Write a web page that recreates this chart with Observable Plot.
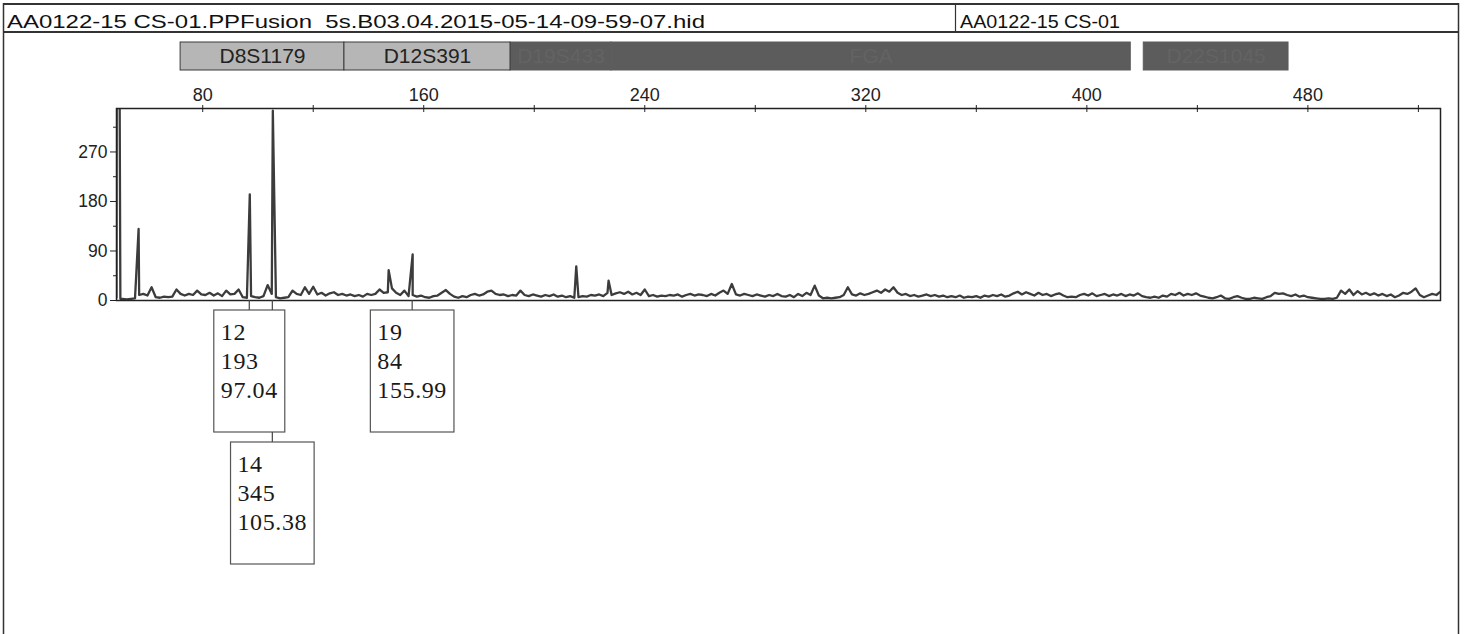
<!DOCTYPE html>
<html><head><meta charset="utf-8">
<script src="https://cdn.jsdelivr.net/npm/d3@7"></script>
<script src="https://cdn.jsdelivr.net/npm/@observablehq/plot@0.6"></script>
<style>
html,body{margin:0;padding:0;background:#fff;}
#page{position:relative;width:1471px;height:634px;overflow:hidden;background:#fff;font-family:"Liberation Sans",Arial,sans-serif;}
#page > svg{position:absolute;left:0;}
</style></head><body><div id="page"></div>
<script>
// ---------- data ----------
const fileName = "AA0122-15 CS-01.PPFusion  5s.B03.04.2015-05-14-09-59-07.hid";
const sampleName = "AA0122-15 CS-01";
const xDomain = [48.8, 528];
const yDomain = [0, 349];
const xTicks = [80,120,160,200,240,280,320,360,400,440,480,520];
const xLabels = [80,160,240,320,400,480];
const yTicksMajor = [0,90,180,270];
const yTicksMinor = [45,135,225,315];

const markerNames = ["D8S1179","D12S391","D19S433","FGA","D22S1045"];
const markerStart = [72.0,131.3,191.4,228,420.6];
const markerEnd   = [131.3,191.4,228,415.9,473.0];
const markerShade = ["light","light","dark","dark","dark"];

const traceStep = 1.5;
const baseline1Start = 51;   // 51 .. 169.5
const baseline1 = [3,2,3,4,10,12,9,24,6,5,7,6,7,20,12,9,12,10,18,11,
                   10,14,9,13,8,18,11,12,20,6,5,8,6,5,8,28,12,6,4,5,
                   6,18,12,10,24,12,25,11,14,9,13,15,10,12,9,11,8,10,7,12,
                   10,12,20,14,15,22,14,10,18,8,10,7,9,6,5,8,9,14,19,12];
const baseline2Start = 171;  // 171 .. 289.5
const baseline2 = [7,5,8,6,10,12,9,11,16,18,12,10,11,8,10,9,18,10,8,11,
                   9,7,10,8,11,7,9,6,8,5,6,8,7,10,9,11,8,14,10,13,
                   15,12,16,11,14,10,20,8,10,7,9,8,10,9,11,7,10,12,9,11,
                   10,8,12,9,14,18,12,30,11,9,12,10,8,11,9,7,10,8,12,8];
const baseline3Start = 291;  // 291 .. 409.5
const baseline3 = [7,10,6,12,8,14,10,27,9,4,5,4,5,6,10,24,11,9,13,10,
                   12,15,18,14,20,16,24,14,10,12,8,10,7,9,11,8,10,7,9,6,
                   8,6,9,5,7,6,8,5,9,7,10,8,11,7,9,13,16,11,15,12,
                   9,14,10,12,8,11,13,9,6,7,6,10,12,9,13,8,10,12,8,11];
const baseline4Start = 411;  // 411 .. 528
const baseline4 = [9,12,8,11,9,13,8,6,5,7,5,9,7,12,10,14,9,12,10,13,
                   9,7,5,4,6,9,4,3,6,8,5,3,3,5,4,3,6,8,14,12,
                   13,10,8,11,7,9,6,5,4,3,3,4,3,5,18,12,20,10,17,11,
                   14,10,13,9,12,8,11,6,9,14,12,16,22,10,6,9,12,10,16];

const peakSize = [48.8, 48.9, 49.9, 50.2, 56.8, 97.04, 105.38, 147.3, 155.99, 215.2, 226.9];
const peakRfu  = [5, 420, 420, 3, 130, 193, 345, 55, 84, 62, 36];

const calledSize   = [97.04, 105.38, 155.99];
const calledAllele = ["12", "14", "19"];
const calledHeight = [193, 345, 84];
const calledRow    = [0, 1, 0];

// ---------- build ----------
const W = 1471, H = 634;
const mL = 116, mR = 31, mT = 108, plotBottom = 300;
const page = document.getElementById("page");

const trace = [];
[[baseline1Start, baseline1],[baseline2Start, baseline2],[baseline3Start, baseline3],[baseline4Start, baseline4]]
  .forEach(([s, arr]) => arr.forEach((v, i) => trace.push({size: s + i * traceStep, rfu: v})));
peakSize.forEach((s, i) => trace.push({size: s, rfu: peakRfu[i]}));
trace.sort((a, b) => a.size - b.size);

const font = "'Liberation Sans', Arial, sans-serif";

const main = Plot.plot({
  width: W, height: H,
  marginTop: mT, marginBottom: H - plotBottom, marginLeft: mL, marginRight: mR,
  x: {domain: xDomain},
  y: {domain: yDomain},
  style: {fontFamily: font, fontSize: "18px", color: "#222", background: "transparent", overflow: "visible"},
  marks: [
    Plot.line(trace, {x: "size", y: "rfu", stroke: "#3c3c3c", strokeWidth: 2.3, strokeLinejoin: "round", clip: true}),
    Plot.frame({stroke: "#222", strokeWidth: 1.5}),
    Plot.axisX({anchor: "top", ticks: xTicks, tickSize: 4, tickPadding: 4,
                tickFormat: d => xLabels.includes(d) ? String(d) : "", label: null}),
    Plot.tickX(xTicks, {x: d => d, insetBottom: (plotBottom - mT) - 4, stroke: "#222"}),
    Plot.axisY({ticks: yTicksMajor, tickSize: 6, tickPadding: 3, label: null, fontSize: 17.5}),
    Plot.axisY({ticks: yTicksMinor, tickSize: 3, tickFormat: () => "", label: null})
  ]
});
main.style.top = "0px";
page.appendChild(main);

// allele call boxes placed with the plot's own x scale
const xs = main.scale("x");
const g = d3.select(main).append("g").attr("class", "calls").attr("text-anchor", "start");
const ctx = document.createElement("canvas").getContext("2d");
const boxFont = 24, letterSp = 0.6, boxH = 122, rowGap = 132, lineH = 29;
ctx.font = `${boxFont}px 'Liberation Serif'`;
calledSize.forEach((s, i) => {
  const lines = [calledAllele[i], String(calledHeight[i]), s.toFixed(2)];
  const tw = Math.max(...lines.map(t => ctx.measureText(t).width + t.length * letterSp));
  const w = tw + 14;
  const cx = xs.apply(s);
  const top = plotBottom + 10 + calledRow[i] * rowGap;
  const left = cx - w / 2;
  g.append("line").attr("x1", cx).attr("x2", cx).attr("y1", plotBottom).attr("y2", plotBottom + 10)
    .attr("stroke", "#444").attr("stroke-width", 1.2);
  if (calledRow[i] > 0) {
    g.append("line").attr("x1", cx).attr("x2", cx).attr("y1", top - rowGap + boxH).attr("y2", top)
      .attr("stroke", "#444").attr("stroke-width", 1.2);
  }
  g.append("rect").attr("x", left).attr("y", top).attr("width", w).attr("height", boxH)
    .attr("fill", "#fff").attr("stroke", "#555").attr("stroke-width", 1.2);
  lines.forEach((t, j) => {
    g.append("text").attr("x", left + 7).attr("y", top + 30 + j * lineH)
      .attr("text-anchor", "start")
      .attr("font-family", "'Liberation Serif', 'Times New Roman', serif")
      .attr("font-size", boxFont).attr("letter-spacing", letterSp).attr("fill", "#1a1a1a").text(t);
  });
});

// marker (locus) bar using same x scale
const markers = markerNames.map((name, i) => ({name, start: markerStart[i], end: markerEnd[i], shade: markerShade[i]}));
const light = markers.filter(d => d.shade === "light");
const dark = markers.filter(d => d.shade === "dark");
const bar = Plot.plot({
  width: W, height: 28,
  marginTop: 0, marginBottom: 0, marginLeft: mL, marginRight: mR,
  x: {domain: xDomain, axis: null},
  style: {fontFamily: font, background: "transparent", overflow: "visible"},
  marks: [
    Plot.rect(dark, {x1: "start", x2: "end", fill: "#5c5c5c", stroke: "#5c5c5c", strokeWidth: 1}),
    Plot.rect(light, {x1: "start", x2: "end", fill: "#b6b6b6", stroke: "#3a3a3a", strokeWidth: 1}),
    Plot.text(light, {x: d => (d.start + d.end) / 2, frameAnchor: "middle", text: "name", fill: "#222", fontSize: 21}),
    Plot.text(dark, {x: d => (d.start + d.end) / 2, frameAnchor: "middle", text: "name", fill: "#636363", fontSize: 21})
  ]
});
bar.style.top = "42px";
page.appendChild(bar);

// header frame and file names
const hdr = d3.create("svg").attr("width", W).attr("height", H).style("top", "0px");
hdr.append("line").attr("x1", 3).attr("x2", 1459).attr("y1", 4).attr("y2", 4).attr("stroke", "#333").attr("stroke-width", 2);
hdr.append("line").attr("x1", 3).attr("x2", 1459).attr("y1", 32).attr("y2", 32).attr("stroke", "#333").attr("stroke-width", 2.2);
hdr.append("line").attr("x1", 3.5).attr("x2", 3.5).attr("y1", 3).attr("y2", H).attr("stroke", "#333").attr("stroke-width", 1.5);
hdr.append("line").attr("x1", 1458.5).attr("x2", 1458.5).attr("y1", 3).attr("y2", H).attr("stroke", "#333").attr("stroke-width", 1.5);
hdr.append("line").attr("x1", 955.5).attr("x2", 955.5).attr("y1", 4).attr("y2", 32).attr("stroke", "#333").attr("stroke-width", 1.2);
hdr.append("text").attr("x", 7).attr("y", 28).attr("font-family", font).attr("font-size", 18)
  .attr("textLength", 698).attr("lengthAdjust", "spacingAndGlyphs").attr("fill", "#111").style("white-space", "pre").text(fileName);
hdr.append("text").attr("x", 960).attr("y", 28).attr("font-family", font).attr("font-size", 18)
  .attr("textLength", 160).attr("lengthAdjust", "spacingAndGlyphs").attr("fill", "#111").text(sampleName);
page.appendChild(hdr.node());
</script>
</body></html>
